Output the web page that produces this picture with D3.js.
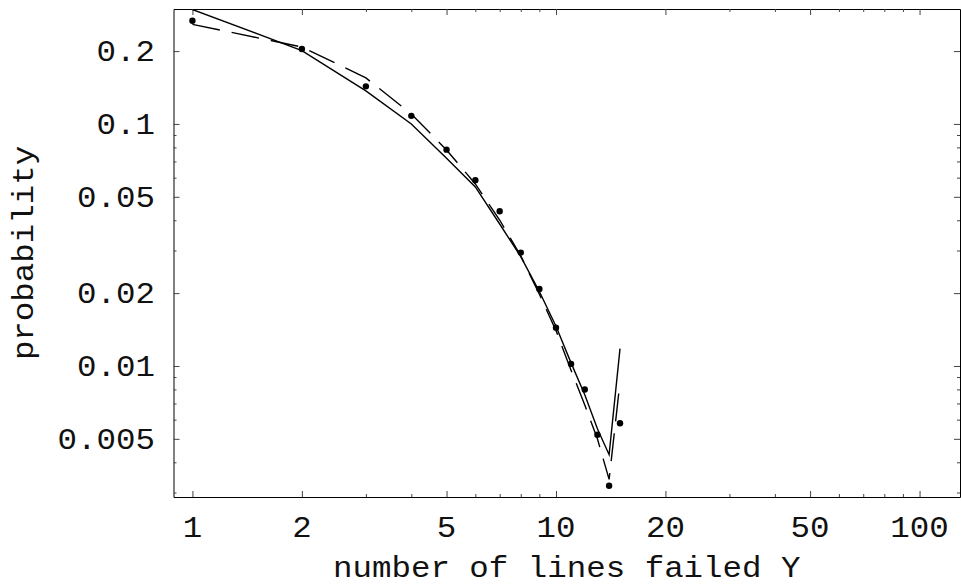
<!DOCTYPE html>
<html>
<head>
<meta charset="utf-8">
<script src="https://d3js.org/d3.v7.min.js"></script>
<style>
html, body { margin: 0; padding: 0; background: #fff; }
svg text { font-family: "Liberation Mono", "DejaVu Sans Mono", monospace; fill: #111; }
</style>
</head>
<body>
<svg width="961" height="585"></svg>
<script>
// number of lines failed
var lines = [1, 2, 3, 4, 5, 6, 7, 8, 9, 10, 11, 12, 13, 14, 15];
// observed probabilities (dots)
var observed = [0.267, 0.204, 0.143, 0.108, 0.0783, 0.0585, 0.0436, 0.0294, 0.0208, 0.0144, 0.0102, 0.0080, 0.0052, 0.0032, 0.0058];
// solid curve
var solidFit = [0.297, 0.201, 0.137, 0.100, 0.0721, 0.0549, 0.0386, 0.0283, 0.0203, 0.0146, 0.0103, 0.0076, 0.0055, 0.0043, 0.0118];
// dashed curve
var dashedFit = [0.258, 0.208, 0.155, 0.110, 0.0781, 0.0565, 0.0401, 0.0285, 0.0198, 0.0140, 0.0096, 0.0069, 0.0050, 0.0034, 0.0086];

var xMajor = [1, 2, 5, 10, 20, 50, 100];
var xMinor = [3, 4, 6, 7, 8, 9, 30, 40, 60, 70, 80, 90];
var yMajor = [0.005, 0.01, 0.02, 0.05, 0.1, 0.2];
var yMinor = [0.003, 0.004, 0.006, 0.007, 0.008, 0.009, 0.03, 0.04, 0.06, 0.07, 0.08, 0.09];

var svg = d3.select("svg"),
    plotLeft = 173.5, plotRight = 960, plotTop = 9, plotBottom = 497;

var x = d3.scaleLog().domain([0.887, 129.2]).range([plotLeft, plotRight]);
var y = d3.scaleLog().domain([0.002875, 0.2985]).range([plotBottom, plotTop]);

var fontSize = 29, stretch = 1.12;

svg.append("clipPath").attr("id", "plot")
  .append("rect").attr("x", plotLeft).attr("y", plotTop)
  .attr("width", plotRight - plotLeft).attr("height", plotBottom - plotTop);

// frame and ticks
function tickAxis(axis, vals, size, tx, ty) {
  var g = svg.append("g")
      .attr("transform", "translate(" + tx + "," + ty + ")")
      .call(axis.tickValues(vals).tickSize(size).tickSizeOuter(0).tickFormat(""));
  g.selectAll(".tick line").attr("stroke", "#444");
  return g;
}
tickAxis(d3.axisBottom(x), xMajor, -6, 0, plotBottom).select(".domain").attr("stroke", "#000");
tickAxis(d3.axisBottom(x), xMinor, -3, 0, plotBottom).select(".domain").remove();
tickAxis(d3.axisTop(x), xMajor, -6, 0, plotTop).select(".domain").attr("stroke", "#000");
tickAxis(d3.axisTop(x), xMinor, -3, 0, plotTop).select(".domain").remove();
tickAxis(d3.axisLeft(y), yMajor, -6, plotLeft, 0).select(".domain").attr("stroke", "#000");
tickAxis(d3.axisLeft(y), yMinor, -3, plotLeft, 0).select(".domain").remove();
tickAxis(d3.axisRight(y), yMajor, -6, plotRight, 0).select(".domain").attr("stroke", "#000");
tickAxis(d3.axisRight(y), yMinor, -3, plotRight, 0).select(".domain").remove();

// tick labels
svg.append("g").selectAll("text")
  .data(xMajor)
  .enter().append("text")
    .attr("transform", function(d) { return "translate(" + x(d) + ",537) scale(" + stretch + ",1)"; })
    .attr("text-anchor", "middle")
    .attr("font-size", fontSize)
    .text(function(d) { return d; });

svg.append("g").selectAll("text")
  .data(yMajor)
  .enter().append("text")
    .attr("transform", function(d) { return "translate(155," + y(d) + ") scale(" + stretch + ",1)"; })
    .attr("text-anchor", "end")
    .attr("dy", "0.35em")
    .attr("font-size", fontSize)
    .text(function(d) { return d; });

// axis titles
svg.append("text")
    .attr("transform", "translate(" + (plotLeft + plotRight) / 2 + ",577) scale(" + stretch + ",1)")
    .attr("text-anchor", "middle")
    .attr("font-size", fontSize)
    .text("number of lines failed Y");

svg.append("text")
    .attr("transform", "translate(33," + (plotTop + plotBottom) / 2 + ") rotate(-90) scale(" + stretch + ",1)")
    .attr("text-anchor", "middle")
    .attr("font-size", fontSize)
    .text("probability");

// curves
var plot = svg.append("g").attr("clip-path", "url(#plot)");

var line = d3.line()
    .x(function(d, i) { return x(lines[i]); })
    .y(function(d) { return y(d); });

plot.append("path")
    .datum(solidFit)
    .attr("fill", "none")
    .attr("stroke", "#000")
    .attr("stroke-width", 1.4)
    .attr("d", line);

plot.append("path")
    .datum(dashedFit)
    .attr("fill", "none")
    .attr("stroke", "#000")
    .attr("stroke-width", 1.4)
    .attr("stroke-dasharray", "28,12")
    .attr("d", line);

plot.selectAll("circle")
  .data(observed)
  .enter().append("circle")
    .attr("cx", function(d, i) { return x(lines[i]); })
    .attr("cy", function(d) { return y(d); })
    .attr("r", 3.2)
    .attr("fill", "#000");
</script>
</body>
</html>
